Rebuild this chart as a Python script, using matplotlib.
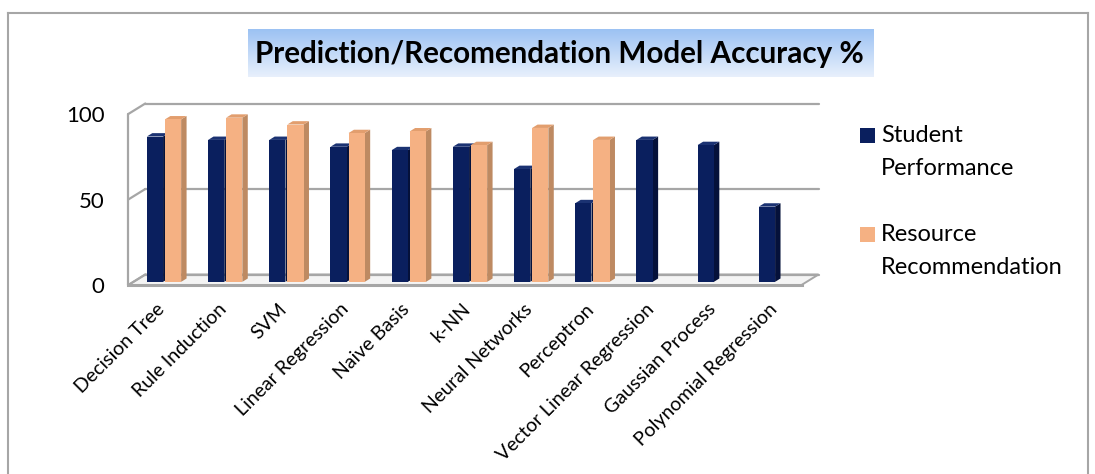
import matplotlib
matplotlib.use("Agg")
import matplotlib.pyplot as plt
from matplotlib.patches import Polygon, Rectangle
from matplotlib.lines import Line2D
from matplotlib.colors import LinearSegmentedColormap
import numpy as np

# ---------------- data ----------------
categories = ["Decision Tree", "Rule Induction", "SVM", "Linear Regression",
              "Naive Basis", "k-NN", "Neural Networks", "Perceptron",
              "Vector Linear Regression", "Gaussian Process", "Polynomial Regression"]
student = [85, 83, 83, 79, 77, 79, 66, 46, 83, 80, 44]
resource = [95, 96, 92, 87, 88, 80, 90, 83, None, None, None]
yticks = [0, 50, 100]
series_names = ["Student\nPerformance", "Resource\nRecommendation"]
title = "Prediction/Recomendation Model Accuracy %"

# ---------------- style ----------------
FONT = "Lato"
W, H = 1095, 474
navy = dict(front="#0A1F5E", side="#05113A", top="#1B3272")
peach = dict(front="#F5B183", side="#BE8A62", top="#E29E6E")
grid_c = "#A6A6A6"

fig = plt.figure(figsize=(W / 100, H / 100), dpi=100)

# pixel geometry of the front plane
x_left, x_right = 128.3, 801.5
y_zero, y_hund = 285.0, 114.0
ax = fig.add_axes([x_left / W, 1 - y_zero / H, (x_right - x_left) / W, (y_zero - y_hund) / H])
n = len(categories)
ax.set_xlim(-0.5, n - 0.5)
ax.set_ylim(0, 100)
for s in ax.spines.values():
    s.set_visible(False)
ax.set_xticks([])
ax.set_yticks(yticks)
ax.set_yticklabels([str(t) for t in yticks], fontsize=16, family=FONT)
ax.tick_params(axis="y", length=0, pad=17)
ax.patch.set_alpha(0)

# depth offsets in data units
px_x = (x_right - x_left) / n
px_y = (y_zero - y_hund) / 100
DX = 17 / px_x
DY = 10.5 / px_y

# walls / gridlines
xa, xb = -0.5, n - 0.5
kw = dict(color=grid_c, lw=1.6, clip_on=False, zorder=1, solid_capstyle="round")
ax.add_patch(Polygon([(xa, 0), (xb, 0), (xb + DX, DY), (xa + DX, DY)], closed=True,
                     facecolor="#F4F4F4", edgecolor=grid_c, lw=1.4, clip_on=False, zorder=1))
ax.plot([xa, xb], [0, 0], color=grid_c, lw=2.2, clip_on=False, zorder=1)
ax.plot([xa, xa], [0, yticks[-1]], **kw)
for t in yticks:
    ax.plot([xa, xa + DX], [t, t + DY], **kw)
    ax.plot([xa + DX, xb + DX], [t + DY, t + DY], **kw)

# 3D bars
d0, d1 = 0.3, 0.62
ox, oy = d0 * DX, d0 * DY
ddx, ddy = (d1 - d0) * DX, (d1 - d0) * DY
bw, gap = 0.265, 0.015


def bar3d(x0, v, col, z):
    x1 = x0 + bw
    y0 = oy
    y1 = oy + v
    ax.add_patch(Polygon([(x1, y0), (x1 + ddx, y0 + ddy), (x1 + ddx, y1 + ddy), (x1, y1)],
                         closed=True, facecolor=col["side"], edgecolor="none",
                         clip_on=False, zorder=z))
    ax.add_patch(Polygon([(x0, y1), (x1, y1), (x1 + ddx, y1 + ddy), (x0 + ddx, y1 + ddy)],
                         closed=True, facecolor=col["top"], edgecolor="none",
                         clip_on=False, zorder=z))
    ax.add_patch(Rectangle((x0, y0), bw, v, facecolor=col["front"], edgecolor="none",
                           clip_on=False, zorder=z))


z = 3
for i in range(n):
    c = i + ox
    if student[i] is not None:
        bar3d(c - gap - bw, student[i], navy, z)
        z += 1
    if resource[i] is not None:
        bar3d(c + gap, resource[i], peach, z)
        z += 1

# category labels
for i, lab in enumerate(categories):
    ax.text(i + ox - 0.03, -12.5, lab, rotation=45, rotation_mode="anchor",
            ha="right", va="center", fontsize=14, family=FONT, color="black",
            clip_on=False)

# legend (manual, Excel style)
leg = [(navy["front"], 128), (peach["front"], 227)]
for (col, ytop), name in zip(leg, series_names):
    fig.add_artist(Rectangle((860 / W, 1 - (ytop + 15) / H), 15 / W, 15 / H,
                             transform=fig.transFigure, facecolor=col, edgecolor="none"))
    for k, line in enumerate(name.split("\n")):
        fig.text(881 / W, 1 - (ytop + 7.5 + 33 * k) / H, line, ha="left", va="center",
                 fontsize=17, family=FONT, color="black")

# title box with gradient
tax = fig.add_axes([248 / W, 1 - 77 / H, 625 / W, 48 / H])
grad = np.linspace(0, 1, 64).reshape(-1, 1)
cmap = LinearSegmentedColormap.from_list("tb", ["#9CC2F3", "#E8F0FC"])
tax.imshow(grad, aspect="auto", cmap=cmap, extent=[0, 1, 0, 1], origin="upper")
tax.set_axis_off()
fig.text(559 / W, 1 - 54 / H, title, ha="center", va="center", fontsize=21.3,
         fontweight="bold", family=FONT, color="black")

# outer border
fig.add_artist(Line2D([8 / W, 1088 / W], [1 - 13 / H, 1 - 13 / H], transform=fig.transFigure,
                      color="#A6A6A6", lw=1.5))
fig.add_artist(Line2D([8 / W, 8 / W], [1 - 13 / H, 0], transform=fig.transFigure,
                      color="#A6A6A6", lw=1.5))
fig.add_artist(Line2D([1088 / W, 1088 / W], [1 - 13 / H, 0], transform=fig.transFigure,
                      color="#A6A6A6", lw=1.5))

fig.savefig("out.png", dpi=100)
